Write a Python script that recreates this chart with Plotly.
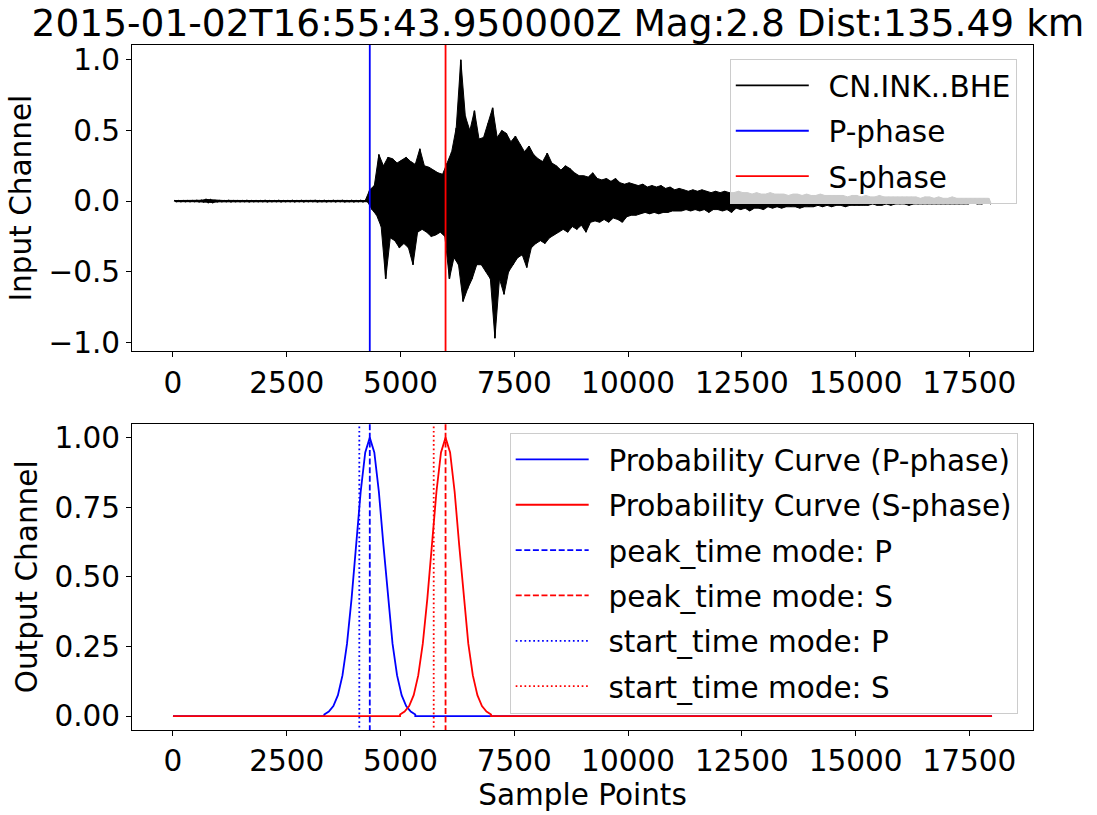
import plotly.graph_objects as go
from plotly.subplots import make_subplots

# ---------------- data ----------------
TITLE = "2015-01-02T16:55:43.950000Z Mag:2.8 Dist:135.49 km"
STATION = "CN.INK..BHE"
N_SAMPLES = 18000
BIN = 100  # samples per envelope bin

# waveform envelope: max / min amplitude per 100-sample bin
env_hi = [
    0.004, 0.004, 0.004, 0.004, 0.004, 0.005, 0.006, 0.012, 0.010, 0.005,
    0.004, 0.004, 0.005, 0.004, 0.004, 0.004, 0.005, 0.004, 0.004, 0.004,
    0.005, 0.004, 0.004, 0.005, 0.004, 0.004, 0.005, 0.004, 0.005, 0.004,
    0.004, 0.005, 0.004, 0.005, 0.004, 0.005, 0.004, 0.005, 0.004, 0.005,
    0.004, 0.005, 0.004, 0.08, 0.11, 0.33, 0.25, 0.31, 0.30, 0.27,
    0.29, 0.31, 0.28, 0.26, 0.37, 0.25, 0.24, 0.22, 0.20, 0.19,
    0.27, 0.35, 0.52, 1.00, 0.60, 0.50, 0.64, 0.44, 0.45, 0.55,
    0.66, 0.45, 0.50, 0.48, 0.42, 0.46, 0.40, 0.35, 0.39, 0.33,
    0.30, 0.28, 0.34, 0.27, 0.25, 0.22, 0.25, 0.23, 0.20, 0.18,
    0.18, 0.17, 0.20, 0.16, 0.15, 0.16, 0.14, 0.16, 0.13, 0.12,
    0.13, 0.12, 0.11, 0.12, 0.10, 0.11, 0.10, 0.11, 0.09, 0.10,
    0.08, 0.09, 0.08, 0.07, 0.08, 0.07, 0.08, 0.07, 0.06, 0.07,
    0.06, 0.07, 0.06, 0.06, 0.07, 0.06, 0.06, 0.05, 0.06, 0.05,
    0.05, 0.06, 0.05, 0.05, 0.05, 0.04, 0.05, 0.05, 0.04, 0.05,
    0.04, 0.04, 0.05, 0.04, 0.04, 0.04, 0.04, 0.04, 0.03, 0.04,
    0.04, 0.03, 0.04, 0.03, 0.03, 0.04, 0.03, 0.03, 0.03, 0.03,
    0.03, 0.03, 0.03, 0.03, 0.02, 0.03, 0.03, 0.02, 0.03, 0.02,
    0.02, 0.03, 0.02, 0.02, 0.02, 0.02, 0.02, 0.02, 0.02, 0.02,
]
env_lo = [
    -0.004, -0.004, -0.004, -0.004, -0.004, -0.005, -0.006, -0.010, -0.010, -0.005,
    -0.004, -0.004, -0.005, -0.004, -0.004, -0.004, -0.005, -0.004, -0.004, -0.004,
    -0.005, -0.004, -0.004, -0.005, -0.004, -0.004, -0.005, -0.004, -0.005, -0.004,
    -0.004, -0.005, -0.004, -0.005, -0.004, -0.005, -0.004, -0.005, -0.004, -0.005,
    -0.004, -0.005, -0.004, -0.06, -0.10, -0.18, -0.55, -0.26, -0.28, -0.33,
    -0.30, -0.33, -0.45, -0.22, -0.20, -0.22, -0.25, -0.24, -0.22, -0.25,
    -0.55, -0.40, -0.45, -0.71, -0.62, -0.55, -0.45, -0.45, -0.50, -0.55,
    -0.97, -0.55, -0.66, -0.50, -0.45, -0.40, -0.38, -0.47, -0.33, -0.30,
    -0.28, -0.30, -0.26, -0.24, -0.22, -0.20, -0.22, -0.18, -0.20, -0.17,
    -0.22, -0.15, -0.14, -0.15, -0.13, -0.15, -0.12, -0.13, -0.15, -0.11,
    -0.10, -0.10, -0.09, -0.08, -0.09, -0.08, -0.09, -0.08, -0.08, -0.07,
    -0.07, -0.07, -0.06, -0.07, -0.06, -0.07, -0.06, -0.08, -0.06, -0.06,
    -0.07, -0.06, -0.08, -0.05, -0.06, -0.05, -0.07, -0.05, -0.05, -0.06,
    -0.04, -0.05, -0.04, -0.05, -0.04, -0.04, -0.04, -0.05, -0.04, -0.04,
    -0.04, -0.03, -0.04, -0.03, -0.04, -0.03, -0.03, -0.04, -0.03, -0.03,
    -0.03, -0.03, -0.03, -0.02, -0.03, -0.03, -0.02, -0.03, -0.02, -0.02,
    -0.02, -0.03, -0.02, -0.02, -0.02, -0.02, -0.02, -0.02, -0.02, -0.02,
    -0.02, -0.02, -0.02, -0.02, -0.02, -0.01, -0.02, -0.02, -0.01, -0.02,
]

# phase picks (sample index)
p_pick = 4325
s_pick = 5990
p_start = 4095
s_start = 5730

# probability curve shape: offsets from the peak and probability values
prob_offsets = [-1000, -900, -800, -700, -600, -500, -400, -300, -200, -100, 0,
                100, 200, 300, 400, 500, 600, 700, 800, 900, 1000]
prob_values = [0.006, 0.016, 0.036, 0.075, 0.146, 0.260, 0.422, 0.614, 0.805, 0.947, 1.0,
               0.947, 0.805, 0.614, 0.422, 0.260, 0.146, 0.075, 0.036, 0.016, 0.006]

x_ticks = [0, 2500, 5000, 7500, 10000, 12500, 15000, 17500]

# ---------------- figure ----------------
FONT = "DejaVu Sans"
FS = 29.5
PAD = "\u2002"  # gap between legend line sample and label

wave_x, wave_y = [], []
for k, (h, l) in enumerate(zip(env_hi, env_lo)):
    wave_x += [k * BIN + BIN // 4, k * BIN + 3 * BIN // 4]
    wave_y += [h, l]

# envelope polygon (upper edge forward, lower edge back)
poly_x = [k * BIN + BIN // 4 for k in range(len(env_hi))] + \
         [k * BIN + 3 * BIN // 4 for k in range(len(env_lo))][::-1]
poly_y = list(env_hi) + list(env_lo)[::-1]

fig = make_subplots(rows=2, cols=1, vertical_spacing=0.1057)

# top panel
fig.add_trace(go.Scatter(x=poly_x, y=poly_y, mode="lines", fill="toself",
                         fillcolor="black", line=dict(color="black", width=1),
                         showlegend=False, hoverinfo="skip"), row=1, col=1)
fig.add_trace(go.Scatter(x=wave_x, y=wave_y, mode="lines", name=PAD + STATION,
                         line=dict(color="black", width=1.6, simplify=False),
                         legend="legend", legendgroup="a1"), row=1, col=1)
fig.add_trace(go.Scatter(x=[p_pick, p_pick], y=[-2, 2], mode="lines", name=PAD + "P-phase",
                         line=dict(color="blue", width=1.8), legend="legend",
                         legendgroup="a2"), row=1, col=1)
fig.add_trace(go.Scatter(x=[s_pick, s_pick], y=[-2, 2], mode="lines", name=PAD + "S-phase",
                         line=dict(color="red", width=1.8), legend="legend",
                         legendgroup="a3"), row=1, col=1)


def prob_curve(peak):
    xs = [0, peak + prob_offsets[0]] + [peak + o for o in prob_offsets] + \
         [peak + prob_offsets[-1], N_SAMPLES - 1]
    ys = [0, 0] + prob_values + [0, 0]
    return xs, ys


px_, py_ = prob_curve(p_pick)
sx_, sy_ = prob_curve(s_pick)
bottom = [
    (px_, py_, "Probability Curve (P-phase)", "blue", None),
    (sx_, sy_, "Probability Curve (S-phase)", "red", None),
    ([p_pick, p_pick], [-2, 2], "peak_time mode: P", "blue", "6px,2.6px"),
    ([s_pick, s_pick], [-2, 2], "peak_time mode: S", "red", "6px,2.6px"),
    ([p_start, p_start], [-2, 2], "start_time mode: P", "blue", "1.7px,2.7px"),
    ([s_start, s_start], [-2, 2], "start_time mode: S", "red", "1.7px,2.7px"),
]
for i, (xs, ys, nm, col, dash) in enumerate(bottom):
    ln = dict(color=col, width=1.8)
    if dash:
        ln["dash"] = dash
    fig.add_trace(go.Scatter(x=xs, y=ys, mode="lines", name=PAD + nm, line=ln,
                             legend="legend2", legendgroup="b%d" % i), row=2, col=1)

axis_common = dict(showline=True, mirror=True, linecolor="black", linewidth=1,
                   ticks="outside", ticklen=5, tickwidth=1, tickcolor="black",
                   showgrid=False, zeroline=False,
                   tickfont=dict(family=FONT, size=FS, color="black"))

for r in (1, 2):
    fig.update_xaxes(range=[-900, 18899], tickvals=x_ticks,
                     ticktext=[str(v) for v in x_ticks], row=r, col=1, **axis_common)

fig.update_xaxes(title=dict(text="Sample Points", font=dict(family=FONT, size=FS, color="black"),
                            standoff=4), row=2, col=1)
fig.update_yaxes(range=[-1.063, 1.105], tick0=-1, dtick=0.5, tickformat=".1f",
                 title=dict(text="Input Channel", font=dict(family=FONT, size=FS, color="black"),
                            standoff=8),
                 row=1, col=1, **axis_common)
fig.update_yaxes(range=[-0.05, 1.05], tick0=0, dtick=0.25, tickformat=".2f",
                 title=dict(text="Output Channel", font=dict(family=FONT, size=FS, color="black"),
                            standoff=8),
                 row=2, col=1, **axis_common)

legend_common = dict(bgcolor="rgba(255,255,255,0.8)", bordercolor="#cccccc", borderwidth=1,
                     font=dict(family=FONT, size=FS, color="black"),
                     xanchor="right", yanchor="top", traceorder="grouped",
                     itemwidth=73, tracegroupgap=4)

fig.update_layout(
    width=1097, height=815,
    margin=dict(l=132, r=64, t=45, b=80),
    paper_bgcolor="white", plot_bgcolor="white",
    font=dict(family=FONT, size=FS, color="black"),
    title=dict(text=TITLE, font=dict(family=FONT, size=37.5, color="black"),
               x=558 / 1097, xref="container", xanchor="center",
               y=1 - 23 / 815, yref="container", yanchor="middle"),
    legend=dict(x=0.982, y=0.980, **legend_common),
    legend2=dict(x=0.983, y=0.434, **legend_common),
    showlegend=True,
)

fig.write_html("out.html")
